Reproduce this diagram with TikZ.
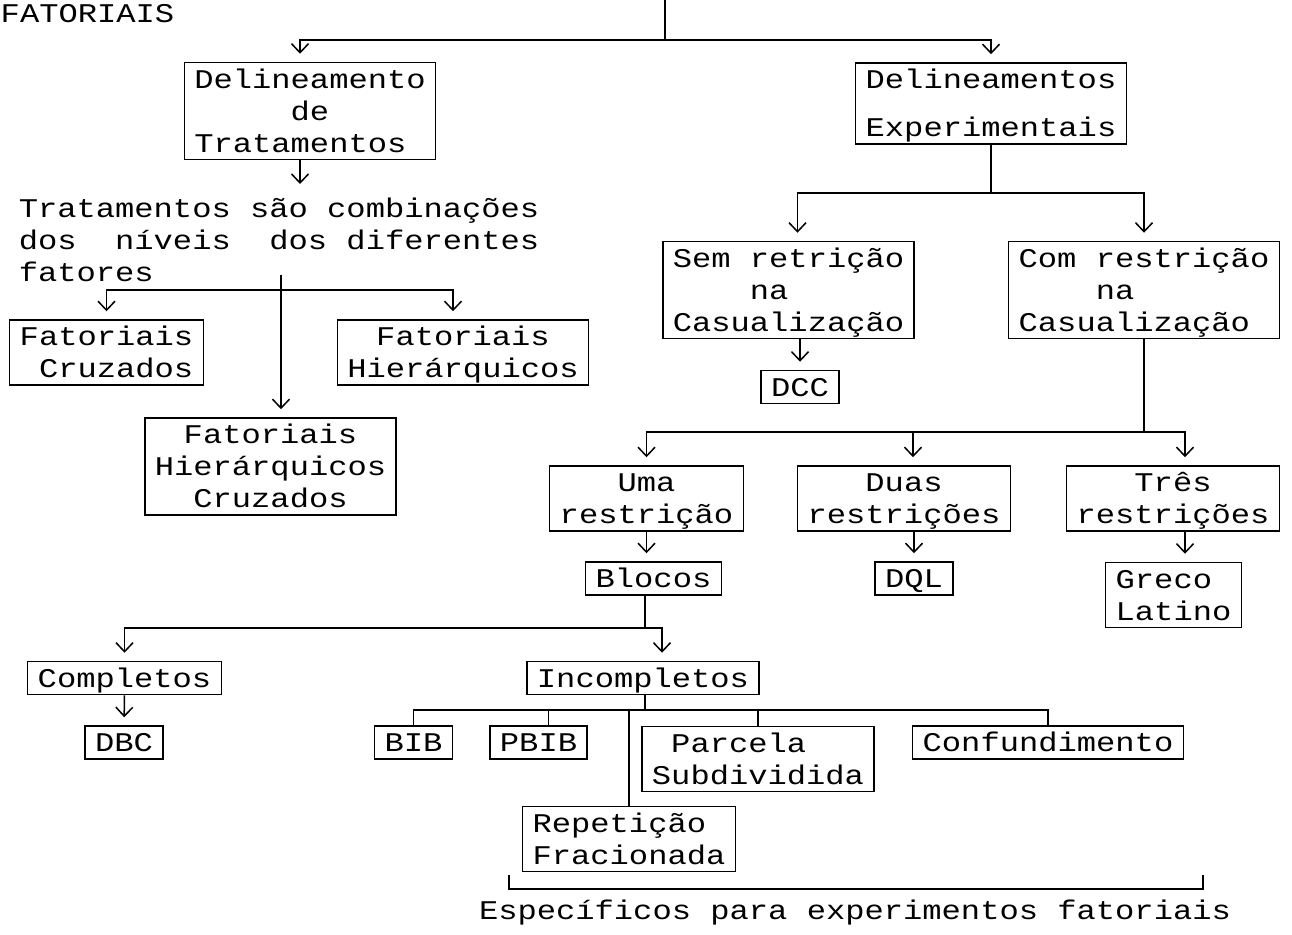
\documentclass[tikz,border=0pt]{standalone}
\usepackage{fontspec}
\setmonofont[FakeStretch=1.19]{Liberation Mono}
\usetikzlibrary{arrows.meta}
\newcommand\boxstrut{\rule[-7pt]{0pt}{32pt}}
\newcommand\bx[1]{\boxstrut#1\boxstrut}

\begin{document}
\begin{tikzpicture}[
    x=1pt, y=-1pt, line width=1.5pt,
    every node/.style={font=\ttfamily\fontsize{27}{32}\selectfont},
    box/.style={rectangle, draw, align=center, inner xsep=10pt, inner ysep=0.5pt},
    plain/.style={align=left, inner sep=0pt},
    arrow/.style={-{Straight Barb[length=9pt,width=17pt]}, shorten >=8pt}
]
\useasboundingbox (0,0) rectangle (1292,934);

% Top of the tree
\node[anchor=west, inner sep=0pt] (fat) at (0,14) {FATORIAIS};
\coordinate (topin) at (665,0);
\coordinate (jtop) at (665,40);
\node[box, align=left] (dtrat) at (310,111) {\bx{Delineamento\\~~~~~de\\Tratamentos}};
\node[box] (dexp) at (991,103.5) {\bx{Delineamentos\\[16pt]Experimentais}};
\draw (topin) -- (jtop);
\draw[arrow] (jtop) -| ([xshift=-10pt]dtrat.north);
\draw[arrow] (jtop) -| (dexp.north);

% Treatment design branch
\node[plain, anchor=north west] (trat) at (18,192) {\bx{Tratamentos são combinações\\dos~~níveis~~dos diferentes\\fatores}};
\draw[arrow] ([xshift=-10pt]dtrat.south) -- ([xshift=-10pt]dtrat.south |- trat.north);
\node[box, align=left] (fcruz) at (106.5,352.5) {\bx{Fatoriais\\~Cruzados}};
\node[box] (fhier) at (463,352.5) {\bx{Fatoriais\\Hierárquicos}};
\node[box] (fhc) at (270.5,466.5) {\bx{Fatoriais\\Hierárquicos\\Cruzados}};
\coordinate (jfatin) at (281,275);
\coordinate (jfat) at (281,290);
\draw[arrow] (jfatin) -- (jfatin |- fhc.north);
\draw[arrow] (jfat) -| (fcruz.north);
\draw[arrow] (jfat) -| ([xshift=-10pt]fhier.north);

% Experimental design branch
\node[box, align=left] (sem) at (788.5,290) {\bx{Sem retrição\\~~~~na\\Casualização}};
\node[box, align=left] (com) at (1144,290) {\bx{Com restrição\\~~~~na\\Casualização}};
\node[box] (dcc) at (800,387) {\bx{DCC}};
\coordinate (jexp) at (991,193);
\draw (dexp.south) -- (jexp);
\draw[arrow] (jexp) -| ([xshift=9pt]sem.north);
\draw[arrow] (jexp) -| (com.north);
\draw[arrow] (sem.south -| dcc.north) -- (dcc.north);

% Restrictions
\node[box] (uma) at (646.5,498.5) {\bx{Uma\\restrição}};
\node[box] (duas) at (904,498.5) {\bx{Duas\\restrições}};
\node[box] (tres) at (1173,498.5) {\bx{Três\\restrições}};
\node[box] (blocos) at (653.5,578.5) {\bx{Blocos}};
\node[box] (dql) at (914,578.5) {\bx{DQL}};
\node[box, align=left] (greco) at (1173.5,595) {\bx{Greco\\Latino}};
\coordinate (jcom) at (1144,432);
\draw (com.south) -- (jcom);
\draw[arrow] (jcom) -| (uma.north);
\draw[arrow] (jcom) -| ([xshift=9pt]duas.north);
\draw[arrow] (jcom) -| ([xshift=12pt]tres.north);
\draw[arrow] (uma.south) -- (uma.south |- blocos.north);
\draw[arrow] (duas.south -| dql.north) -- (dql.north);
\draw[arrow] ([xshift=12pt]tres.south) -- ([xshift=12pt]tres.south |- greco.north);

% Blocks
\node[box] (compl) at (124.5,678) {\bx{Completos}};
\node[box] (incomp) at (643,678) {\bx{Incompletos}};
\node[box] (dbc) at (124,742.5) {\bx{DBC}};
\coordinate (jblk) at (645,628);
\draw (jblk |- blocos.south) -- (jblk);
\draw[arrow] (jblk) -| (compl.north);
\draw[arrow] (jblk) -| ([xshift=19pt]incomp.north);
\draw[arrow] (compl.south) -- (dbc.north);

% Incomplete blocks
\node[box] (bib) at (413.5,742.5) {\bx{BIB}};
\node[box] (pbib) at (538.5,742.5) {\bx{PBIB}};
\node[box, align=left] (parc) at (758,759) {\bx{~Parcela\\Subdividida}};
\node[box] (conf) at (1048,742.5) {\bx{Confundimento}};
\node[box, align=left] (rep) at (629,839) {\bx{Repetição\\Fracionada}};
\coordinate (jinc) at (645,710);
\draw (jinc |- incomp.south) -- (jinc);
\draw (bib.north) |- (jinc) -| (conf.north);
\draw ([xshift=10pt]pbib.north) -- ([xshift=10pt]pbib.north |- jinc);
\draw (parc.north) -- (parc.north |- jinc);
\draw (jinc -| rep.north) -- (rep.north);

% Factorial-specific bracket
\coordinate (brl) at (509,875);
\coordinate (brr) at (1203,875);
\draw (brl) -- ++(0,14) -| (brr);
\node (espec) at (855,913) {Específicos para experimentos fatoriais};
\end{tikzpicture}
\end{document}
